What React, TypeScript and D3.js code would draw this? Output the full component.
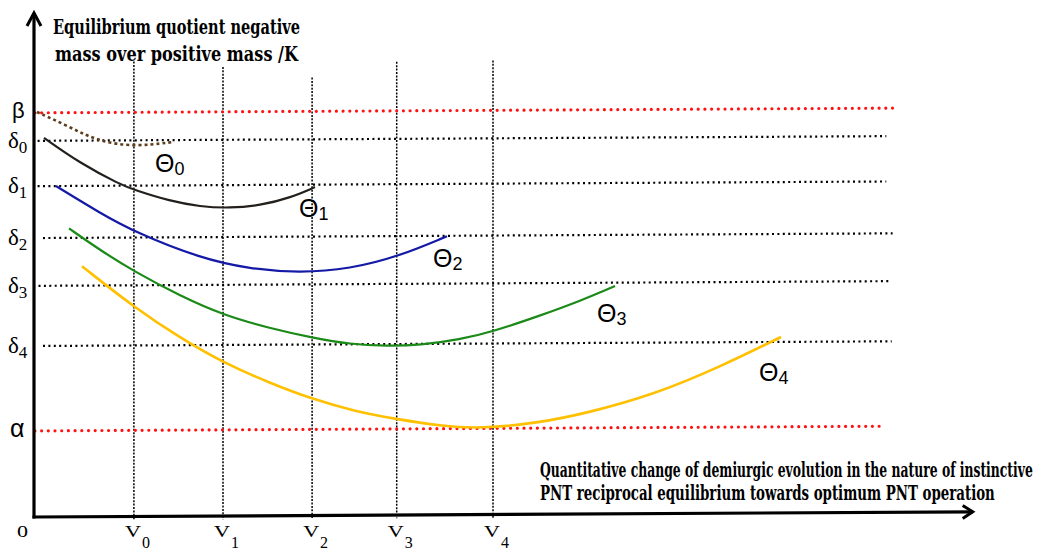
import React, { useLayoutEffect, useRef, useState } from 'react';
import * as d3 from 'd3';

const W = 1054;
const H = 550;

// reference levels of the quotient K (top to bottom)
const levelNames = ['β', 'δ', 'δ', 'δ', 'δ', 'δ', 'α'];
const levelSubs = ['', '0', '1', '2', '3', '4', ''];
const levelValues = [0.981, 0.913, 0.803, 0.677, 0.561, 0.415, 0.209];
const levelStart = [0.01, 0.04, 0.04, 0.1, 0.05, 0.1, 0.01];
const levelEnd = [9.54, 9.47, 9.47, 9.54, 9.51, 9.53, 9.46];

// V marks on the evolution axis
const vSubs = ['0', '1', '2', '3', '4'];
const vValues = [1.11, 2.1, 3.09, 4.03, 5.1];
const vTops = [1.104, 1.09, 1.063, 1.1, 1.102];

// Θ curves, [evolution, K]
const theta0: [number, number][] = [
  [0.033, 0.983], [0.4, 0.946], [0.7, 0.912], [1.1, 0.897], [1.533, 0.908],
];
const theta1: [number, number][] = [
  [0.111, 0.92], [0.511, 0.858], [0.956, 0.806], [1.122, 0.792], [1.511, 0.765],
  [1.844, 0.751], [2.178, 0.747], [2.511, 0.753], [2.844, 0.771], [3.122, 0.797],
];
const theta2: [number, number][] = [
  [0.244, 0.803], [0.733, 0.737], [1.122, 0.69], [1.844, 0.626], [2.4, 0.599],
  [2.956, 0.589], [3.511, 0.598], [4.044, 0.627], [4.589, 0.676],
];
const theta3: [number, number][] = [
  [0.389, 0.7], [0.733, 0.647], [1.111, 0.595], [1.622, 0.535], [2.111, 0.487],
  [2.622, 0.455], [3.1, 0.431], [3.511, 0.415], [3.922, 0.41], [4.289, 0.412],
  [4.733, 0.425], [5.1, 0.444], [5.622, 0.482], [6.067, 0.517], [6.456, 0.553],
];
const theta4: [number, number][] = [
  [0.533, 0.608], [1.111, 0.508], [1.622, 0.433], [2.111, 0.371], [2.622, 0.322],
  [3.1, 0.282], [3.567, 0.252], [4.044, 0.232], [4.511, 0.216], [4.956, 0.208],
  [5.622, 0.222], [6.144, 0.245], [6.878, 0.288], [7.622, 0.355], [8.3, 0.427],
];
const thetaSeries = [theta0, theta1, theta2, theta3, theta4];
const thetaSubs = ['0', '1', '2', '3', '4'];

// axis titles
const yTitle = ['Equilibrium quotient negative', 'mass over positive mass /K'];
const xTitle = [
  'Quantitative change of demiurgic evolution in the nature of instinctive',
  'PNT reciprocal equilibrium towards optimum PNT operation',
];

const curveColors = ['#5e3c1c', '#231f1c', '#1419a6', '#1b8a18', '#ffc000'];
const labelOffsets = [[-17, 30], [-16, 30], [-14, 31], [-18, 36], [-22, 44]];

const serifBold = "'DejaVu Serif Condensed', 'DejaVu Serif', serif";
const serif = "'Liberation Serif', 'Times New Roman', serif";
const sans = "'Liberation Sans', Arial, sans-serif";

// condensed text squeezed to a measured width
function FitText({ x, y, width, size, text }: { x: number; y: number; width: number; size: number; text: string }) {
  const ref = useRef<SVGTextElement>(null);
  const [sx, setSx] = useState(0.65);
  useLayoutEffect(() => {
    if (!ref.current) return;
    const natural = ref.current.getComputedTextLength();
    if (natural > 0) setSx(width / natural);
  }, [width, text]);
  return (
    <g transform={`translate(${x},${y}) scale(${sx},1)`}>
      <text ref={ref} fontFamily={serifBold} fontWeight="bold" fontSize={size} fill="#000">{text}</text>
    </g>
  );
}

export default function App() {
  const x = d3.scaleLinear().domain([0, 10]).range([34, 934]);
  const y = d3.scaleLinear().domain([0, 1]).range([517, 105]);

  const line = d3.line<[number, number]>()
    .x(d => x(d[0]))
    .y(d => y(d[1]))
    .curve(d3.curveBasis);

  const x0 = x(0);
  const skew = `translate(${x0},0) skewY(-0.315) translate(${-x0},0)`;
  const tan = Math.tan((-0.315 * Math.PI) / 180);
  const skewY = (px: number, py: number) => py + tan * (px - x0);

  const axisEnd = x(10.43);

  return (
    <svg width={W} height={H} style={{ position: 'fixed', left: 0, top: 0, background: '#fff' }}>
      <g transform={skew}>
        {/* vertical guides */}
        {vValues.map((v, i) => (
          <line key={'v' + i} x1={x(v)} x2={x(v)} y1={y(vTops[i])} y2={y(-0.008)}
            stroke="#000" strokeWidth={1.5} strokeDasharray="2 1.4" />
        ))}
        {/* horizontal levels */}
        {levelValues.map((v, i) => {
          const red = levelNames[i] !== 'δ';
          return (
            <line key={'h' + i} x1={x(levelStart[i])} x2={x(levelEnd[i])} y1={y(v)} y2={y(v)}
              stroke={red ? '#ff1212' : '#000'}
              strokeWidth={red ? 3.2 : 2.2}
              strokeLinecap={red ? 'round' : 'butt'}
              strokeDasharray={red ? '0 6.7' : '2 3.4'} />
          );
        })}
        {/* curves */}
        {thetaSeries.map((s, i) => (
          <path key={'c' + i} d={line(s) || ''} fill="none" stroke={curveColors[i]}
            strokeWidth={i === 0 || i === 4 ? 2.6 : 2.2}
            strokeDasharray={i === 0 ? '3 3' : undefined} />
        ))}
        {/* x axis */}
        <line x1={x0 - 1.5} x2={axisEnd} y1={y(0)} y2={y(0)} stroke="#000" strokeWidth={3.2} />
        <path d={`M${axisEnd - 10},${y(0) - 6.5}L${axisEnd},${y(0)}L${axisEnd - 10},${y(0) + 6.5}`}
          fill="none" stroke="#000" strokeWidth={3} />
      </g>

      {/* y axis */}
      <line x1={x0} x2={x0} y1={y(0) + 1.5} y2={13} stroke="#000" strokeWidth={3.2} />
      <path d={`M${x0 - 7},${26}L${x0},${13}L${x0 + 7},${26}`} fill="none" stroke="#000" strokeWidth={3} />

      {/* curve labels */}
      {thetaSeries.map((s, i) => {
        const last = s[s.length - 1];
        const px = x(last[0]) + labelOffsets[i][0];
        const py = skewY(x(last[0]), y(last[1])) + labelOffsets[i][1];
        return (
          <text key={'t' + i} x={px} y={py} fontFamily={sans} fontSize={25} fill="#000">
            Θ<tspan fontSize={18} dy={3}>{thetaSubs[i]}</tspan>
          </text>
        );
      })}

      {/* level labels */}
      {levelValues.map((v, i) => {
        const yy = y(v);
        if (levelNames[i] === 'δ') {
          return (
            <text key={'l' + i} x={8} y={yy + 7} fontFamily={serif} fontSize={23} fill="#000">
              δ<tspan fontSize={17} dy={5}>{levelSubs[i]}</tspan>
            </text>
          );
        }
        return (
          <text key={'l' + i} x={levelNames[i] === 'β' ? 12 : 10} y={yy + (levelNames[i] === 'β' ? 5 : 6)}
            fontFamily={sans} fontSize={levelNames[i] === 'β' ? 22 : 25} fill="#000">
            {levelNames[i]}
          </text>
        );
      })}

      {/* V labels */}
      <g transform="translate(17,537) scale(1.3,1)">
        <text fontFamily={serif} fontSize={17} fill="#000">0</text>
      </g>
      {vValues.map((v, i) => (
        <g key={'vl' + i}>
          <g transform={`translate(${x(v) - 1},537) scale(1.3,1)`}>
            <text textAnchor="middle" fontFamily={serif} fontSize={17} fill="#000">V</text>
          </g>
          <text x={x(v) + 8} y={548} fontFamily={serif} fontSize={16} fill="#000">{vSubs[i]}</text>
        </g>
      ))}

      {/* axis titles */}
      <FitText x={53} y={33.5} width={247} size={21} text={yTitle[0]} />
      <FitText x={55} y={61} width={243} size={21} text={yTitle[1]} />
      <FitText x={540} y={477} width={493} size={21} text={xTitle[0]} />
      <FitText x={540} y={500} width={455} size={21} text={xTitle[1]} />
    </svg>
  );
}
